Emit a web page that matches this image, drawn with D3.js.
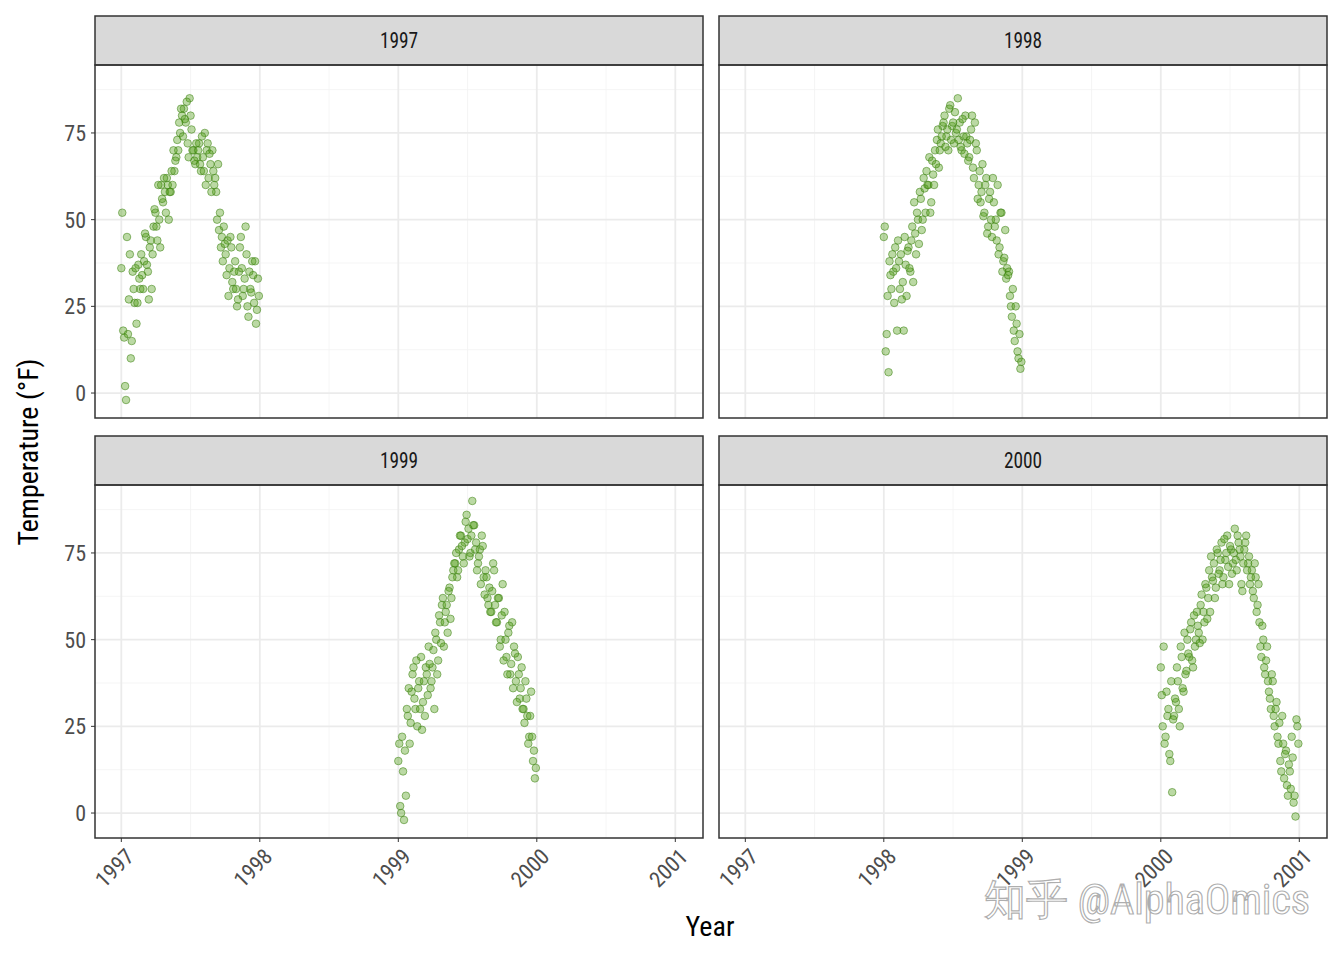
<!DOCTYPE html><html><head><meta charset="utf-8"><script src="https://cdn.jsdelivr.net/npm/d3@7"></script>
<style>body{margin:0;background:#fff}text{font-family:"Roboto Condensed",Roboto,"Liberation Sans Narrow",sans-serif}</style></head><body>
<svg id="c" width="1344" height="960"></svg>
<script>
const years=[1997,1998,1999,2000];
const xTicks=[1997,1998,1999,2000,2001];
const yTicks=[0,25,50,75];
const temps1997=[36,18,2,45,27,10,35,26,20,37,30,34,38,45,35,42,30,48,52,44,50,60,55,58,62,50,58,60,64,68,70,75,80,82,78,72,85,76,70,66,68,72,64,68,75,70,62,66,70,60,58,66,52,45,48,40,44,36,42,30,38,25,35,45,28,33,40,22,30,38,26,20,33];
const temps1997b=[52,16,-2,17,40,15,30,36,26,33,40,30,46,37,27,44,40,53,48,60,42,56,62,52,60,58,64,70,67,73,78,82,74,79,84,68,80,70,67,72,70,66,74,64,60,72,69,58,64,62,50,47,42,38,43,34,28,45,32,35,30,27,42,36,30,48,25,35,29,34,38,24,28];
const temps1998=[45,12,28,38,30,35,42,18,38,40,32,45,28,42,35,48,55,40,50,58,47,62,52,60,68,55,63,70,73,65,72,77,80,74,70,83,77,72,75,85,78,70,74,80,72,68,76,65,78,70,60,55,66,52,62,48,58,45,55,50,60,42,52,38,47,36,35,25,30,15,20,10,7];
const temps1998b=[48,17,6,34,40,26,36,44,30,27,18,37,41,36,44,32,46,52,43,56,50,59,64,60,52,67,60,66,76,70,74,78,71,76,82,73,78,81,76,73,71,79,69,74,67,73,80,62,72,56,64,58,51,60,46,56,50,62,48,44,40,52,35,39,33,34,28,22,18,25,12,17,9];
const temps1999=[15,2,22,-2,5,28,20,35,42,30,25,38,45,32,28,40,48,36,42,30,50,44,55,60,48,58,52,65,62,70,72,68,76,80,74,78,86,82,75,90,83,78,72,76,80,68,70,62,65,58,72,60,55,62,50,66,58,45,52,40,55,48,38,45,33,42,30,38,28,22,35,15,10];
const temps1999b=[20,0,12,18,30,36,26,40,33,44,36,30,24,38,42,34,43,38,47,52,40,57,49,62,55,60,64,56,68,72,75,70,80,77,72,84,79,74,80,83,76,70,74,66,77,63,68,60,58,64,70,55,62,48,57,44,50,40,54,43,36,46,32,40,36,30,26,33,20,28,22,18,13];
const temps2000=[42,25,20,35,30,15,6,28,32,38,25,45,35,40,50,45,55,42,48,58,52,60,50,55,65,62,58,68,72,65,75,70,78,68,73,80,66,76,72,82,70,78,74,64,76,80,72,66,70,62,68,60,55,45,50,40,48,35,30,38,25,32,20,15,28,10,18,5,12,22,3,-1,25];
const temps2000b=[34,48,22,28,17,38,27,33,42,30,48,36,52,41,46,53,44,57,50,54,49,63,58,66,56,70,74,67,62,76,69,73,66,79,75,71,77,69,75,73,80,76,66,72,78,70,74,68,64,72,58,66,48,54,42,44,38,33,40,28,30,22,26,12,20,17,8,14,7,16,5,27,20];
const series=[[temps1997,temps1997b],[temps1998,temps1998b],[temps1999,temps1999b],[temps2000,temps2000b]];
const svg=d3.select("#c");
const panels=[{x:95,y:16},{x:719,y:16},{x:95,y:436},{x:719,y:436}];
const W=608,SH=49,PH=353;
panels.forEach((p,i)=>{
  const g=svg.append("g").attr("transform",`translate(${p.x},${p.y})`);
  const x=d3.scaleLinear().domain([1996.81,2001.2]).range([0,W]);
  const y=d3.scaleLinear().domain([-7.2,94.6]).range([SH+PH,SH]);
  const minorX=[1997.5,1998.5,1999.5,2000.5];
  g.selectAll(".mx").data(minorX).join("line").attr("x1",x).attr("x2",x).attr("y1",SH).attr("y2",SH+PH).attr("stroke","#f2f2f2").attr("stroke-width",0.8);
  const minorY=[12.5,37.5,62.5,87.5];
  g.selectAll(".my").data(minorY).join("line").attr("y1",y).attr("y2",y).attr("x1",0).attr("x2",W).attr("stroke","#f2f2f2").attr("stroke-width",0.8);
  g.selectAll(".gx").data(xTicks).join("line").attr("x1",x).attr("x2",x).attr("y1",SH).attr("y2",SH+PH).attr("stroke","#ebebeb").attr("stroke-width",1.8);
  g.selectAll(".gy").data(yTicks).join("line").attr("y1",y).attr("y2",y).attr("x1",0).attr("x2",W).attr("stroke","#ebebeb").attr("stroke-width",1.8);
  series[i].forEach((data,k)=>{
    g.selectAll(null).data(data).join("circle")
      .attr("cx",(d,j)=>x(years[i]+(j*5+k*2.5)/365)).attr("cy",d=>y(d)).attr("r",3.8)
      .attr("fill","rgba(77,154,15,0.38)").attr("stroke","rgba(55,125,10,0.65)").attr("stroke-width",0.8);
  });
  g.append("rect").attr("x",0).attr("y",0).attr("width",W).attr("height",SH).attr("fill","#d9d9d9").attr("stroke","#333").attr("stroke-width",1.5);
  g.append("text").attr("x",W/2).attr("y",SH/2+8).attr("text-anchor","middle").attr("font-size",22).attr("fill","#1a1a1a").attr("transform",`translate(${W/2},0) scale(0.88,1) translate(${-W/2},0)`).text(years[i]);
  g.append("rect").attr("x",0).attr("y",SH).attr("width",W).attr("height",PH).attr("fill","none").attr("stroke","#333").attr("stroke-width",1.5);
  if(i%2===0){
    g.selectAll(".yt").data(yTicks).join("line").attr("x1",-4).attr("x2",0).attr("y1",y).attr("y2",y).attr("stroke","#333");
    g.selectAll(".yl").data(yTicks).join("text").attr("x",-9).attr("y",d=>y(d)+8).attr("text-anchor","end").attr("font-size",22).attr("fill","#4d4d4d").text(d=>d);
  }
  if(i>=2){
    g.selectAll(".xt").data(xTicks).join("line").attr("x1",x).attr("x2",x).attr("y1",SH+PH).attr("y2",SH+PH+4).attr("stroke","#333");
    g.selectAll(".xl").data(xTicks).join("text").attr("font-size",22).attr("fill","#4d4d4d").attr("text-anchor","end")
      .attr("transform",d=>`translate(${x(d)+14},${SH+PH+20}) rotate(-45)`).text(d=>d);
  }
});
svg.append("text").attr("x",710).attr("y",936).attr("text-anchor","middle").attr("font-size",28).text("Year");
svg.append("text").attr("transform","translate(38,452) rotate(-90)").attr("text-anchor","middle").attr("font-size",28).text("Temperature (°F)");
svg.append("text").attr("x",1310).attr("y",914).attr("text-anchor","end").attr("font-size",42).attr("font-family","Noto Sans CJK SC").attr("fill","rgba(255,255,255,0.7)").attr("stroke","rgba(120,120,120,0.6)").attr("stroke-width",1.2).text("知乎 @AlphaOmics");
</script></body></html>
